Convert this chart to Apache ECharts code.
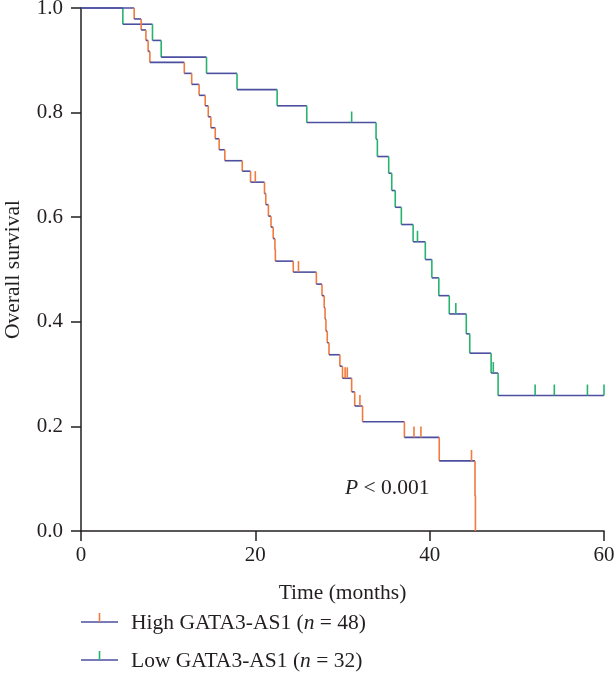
<!DOCTYPE html>
<html>
<head>
<meta charset="utf-8">
<script src="https://cdn.jsdelivr.net/npm/echarts@6/dist/echarts.min.js"></script>
<style>html,body{margin:0;padding:0;background:#fff;}#chart{width:615px;height:679px;}</style>
</head>
<body>
<div id="chart"></div>
<script>
// ---- Data ----
const highTimes = [6.1, 6.9, 7.45, 7.7, 7.9, 11.85, 12.7, 13.55, 14.25, 14.6, 14.9, 15.4, 15.85, 16.5, 18.5, 19.45, 21.05, 21.2, 21.5, 21.8, 22.05, 22.25, 22.3, 24.35, 27.0, 27.65, 27.9, 28.0, 28.1, 28.25, 28.45, 29.7, 30.0, 31.05, 31.4, 32.3, 37.1, 41.1, 45.2, 45.25];
const highSurv = [0.979, 0.958, 0.938, 0.917, 0.896, 0.875, 0.854, 0.833, 0.813, 0.792, 0.771, 0.750, 0.729, 0.708, 0.688, 0.667, 0.645, 0.624, 0.602, 0.581, 0.559, 0.538, 0.516, 0.495, 0.472, 0.450, 0.427, 0.405, 0.382, 0.360, 0.337, 0.315, 0.292, 0.266, 0.239, 0.209, 0.179, 0.134, 0.067, 0.0];
const highCensor = [20.0, 24.95, 30.3, 30.55, 32.0, 38.2, 39.0, 44.8];

const lowTimes = [4.8, 8.2, 9.2, 14.4, 17.9, 22.5, 25.9, 33.85, 34.0, 35.3, 35.65, 36.05, 36.75, 38.1, 39.5, 40.25, 41.05, 42.25, 44.2, 44.6, 47.05, 47.85];
const lowSurv = [0.969, 0.938, 0.906, 0.875, 0.844, 0.813, 0.781, 0.749, 0.716, 0.684, 0.651, 0.619, 0.586, 0.553, 0.519, 0.484, 0.450, 0.415, 0.377, 0.340, 0.302, 0.259];
const lowCensor = [31.05, 38.6, 43.0, 47.3, 52.1, 54.3, 58.1, 60.0];
const lowEnd = 60;

const xTicks = [0, 20, 40, 60];
const yTicks = [0.0, 0.2, 0.4, 0.6, 0.8, 1.0];

const groupNames = ['High GATA3-AS1', 'Low GATA3-AS1'];
const groupN = [48, 32];

// ---- Styles ----
const BLUE = '#4b4f9f';
const ORANGE = '#f07a3f';
const GREEN = '#27b36f';
const AXIS = '#231f20';
const FONT = '"Liberation Serif", "DejaVu Serif", serif';
const FS = 21;
const FSL = 21.5;

function stepItems(times, surv, endTime) {
  const items = [];
  let t0 = 0, s0 = 1;
  for (let i = 0; i < times.length; i++) {
    items.push([t0, times[i], s0, surv[i]]);
    t0 = times[i]; s0 = surv[i];
  }
  if (endTime != null && endTime > t0) items.push([t0, endTime, s0, s0]);
  return items;
}
function survAt(times, surv, t) {
  let s = 1;
  for (let i = 0; i < times.length; i++) { if (times[i] <= t) s = surv[i]; }
  return s;
}
function censorItems(censor, times, surv) {
  return censor.map(t => [t, survAt(times, surv, t)]);
}

function stepRenderer(color) {
  return function (params, api) {
    const t0 = api.value(0), t1 = api.value(1), s0 = api.value(2), s1 = api.value(3);
    const a = api.coord([t0, s0]);
    const b = api.coord([t1, s0]);
    const c = api.coord([t1, s1]);
    const children = [{
      type: 'line', shape: { x1: a[0], y1: a[1], x2: b[0], y2: b[1] },
      style: { stroke: BLUE, lineWidth: 1.6 }
    }];
    if (s1 !== s0) {
      children.push({
        type: 'line', shape: { x1: b[0], y1: b[1], x2: c[0], y2: c[1] },
        style: { stroke: color, lineWidth: 1.6 }
      });
    }
    return { type: 'group', children: children };
  };
}
function censorRenderer(color) {
  return function (params, api) {
    const p = api.coord([api.value(0), api.value(1)]);
    return {
      type: 'line', shape: { x1: p[0], y1: p[1], x2: p[0], y2: p[1] - 11 },
      style: { stroke: color, lineWidth: 1.6 }
    };
  };
}

const chart = echarts.init(document.getElementById('chart'), null, { renderer: 'canvas' });

const italicRich = { i: { fontFamily: FONT, fontSize: FSL, fontStyle: 'italic', fill: AXIS } };

const option = {
  animation: false,
  backgroundColor: '#fff',
  grid: { left: 81, right: 11, top: 8, bottom: 148, containLabel: false, outerBoundsMode: 'none' },
  xAxis: {
    type: 'value', min: xTicks[0], max: xTicks[xTicks.length - 1], interval: 20,
    name: 'Time (months)', nameLocation: 'middle', nameGap: 51,
    nameTextStyle: { fontFamily: FONT, fontSize: FSL, color: AXIS },
    axisLine: { show: true, onZero: false, lineStyle: { color: AXIS, width: 1.5 } },
    axisTick: { show: true, inside: false, length: 10, lineStyle: { color: AXIS, width: 1.5 } },
    axisLabel: { fontFamily: FONT, fontSize: FS, color: AXIS, margin: 14 },
    splitLine: { show: false }
  },
  yAxis: {
    type: 'value', min: yTicks[0], max: yTicks[yTicks.length - 1], interval: 0.2,
    name: 'Overall survival', nameLocation: 'middle', nameGap: 57,
    nameTextStyle: { fontFamily: FONT, fontSize: FSL, color: AXIS },
    axisLine: { show: true, lineStyle: { color: AXIS, width: 1.5 } },
    axisTick: { show: true, inside: false, length: 10, lineStyle: { color: AXIS, width: 1.5 } },
    axisLabel: { fontFamily: FONT, fontSize: FS, color: AXIS, margin: 18, formatter: v => v.toFixed(1) },
    splitLine: { show: false }
  },
  series: [
    {
      name: groupNames[1], type: 'custom', renderItem: stepRenderer(GREEN),
      data: stepItems(lowTimes, lowSurv, lowEnd), encode: { x: [0, 1], y: [2, 3] }, z: 2
    },
    {
      name: groupNames[0], type: 'custom', renderItem: stepRenderer(ORANGE),
      data: stepItems(highTimes, highSurv, null), encode: { x: [0, 1], y: [2, 3] }, z: 3
    },
    {
      name: groupNames[1] + ' censored', type: 'custom', renderItem: censorRenderer(GREEN),
      data: censorItems(lowCensor, lowTimes, lowSurv), encode: { x: 0, y: 1 }, z: 4
    },
    {
      name: groupNames[0] + ' censored', type: 'custom', renderItem: censorRenderer(ORANGE),
      data: censorItems(highCensor, highTimes, highSurv), encode: { x: 0, y: 1 }, z: 4
    }
  ],
  graphic: [
    {
      type: 'text', left: 345, top: 477,
      style: { text: '{i|P} < 0.001', font: FSL + 'px ' + FONT, fill: AXIS, rich: italicRich }
    },
    { type: 'line', shape: { x1: 81, y1: 622, x2: 118, y2: 622 }, style: { stroke: BLUE, lineWidth: 1.6 } },
    { type: 'line', shape: { x1: 99.5, y1: 622, x2: 99.5, y2: 613 }, style: { stroke: ORANGE, lineWidth: 1.6 } },
    {
      type: 'text', left: 131, top: 612,
      style: { text: groupNames[0] + ' ({i|n} = ' + groupN[0] + ')', font: FSL + 'px ' + FONT, fill: AXIS, rich: italicRich }
    },
    { type: 'line', shape: { x1: 81, y1: 660, x2: 118, y2: 660 }, style: { stroke: BLUE, lineWidth: 1.6 } },
    { type: 'line', shape: { x1: 99.5, y1: 660, x2: 99.5, y2: 651 }, style: { stroke: GREEN, lineWidth: 1.6 } },
    {
      type: 'text', left: 131, top: 650,
      style: { text: groupNames[1] + ' ({i|n} = ' + groupN[1] + ')', font: FSL + 'px ' + FONT, fill: AXIS, rich: italicRich }
    }
  ]
};
chart.setOption(option);
</script>
</body>
</html>
